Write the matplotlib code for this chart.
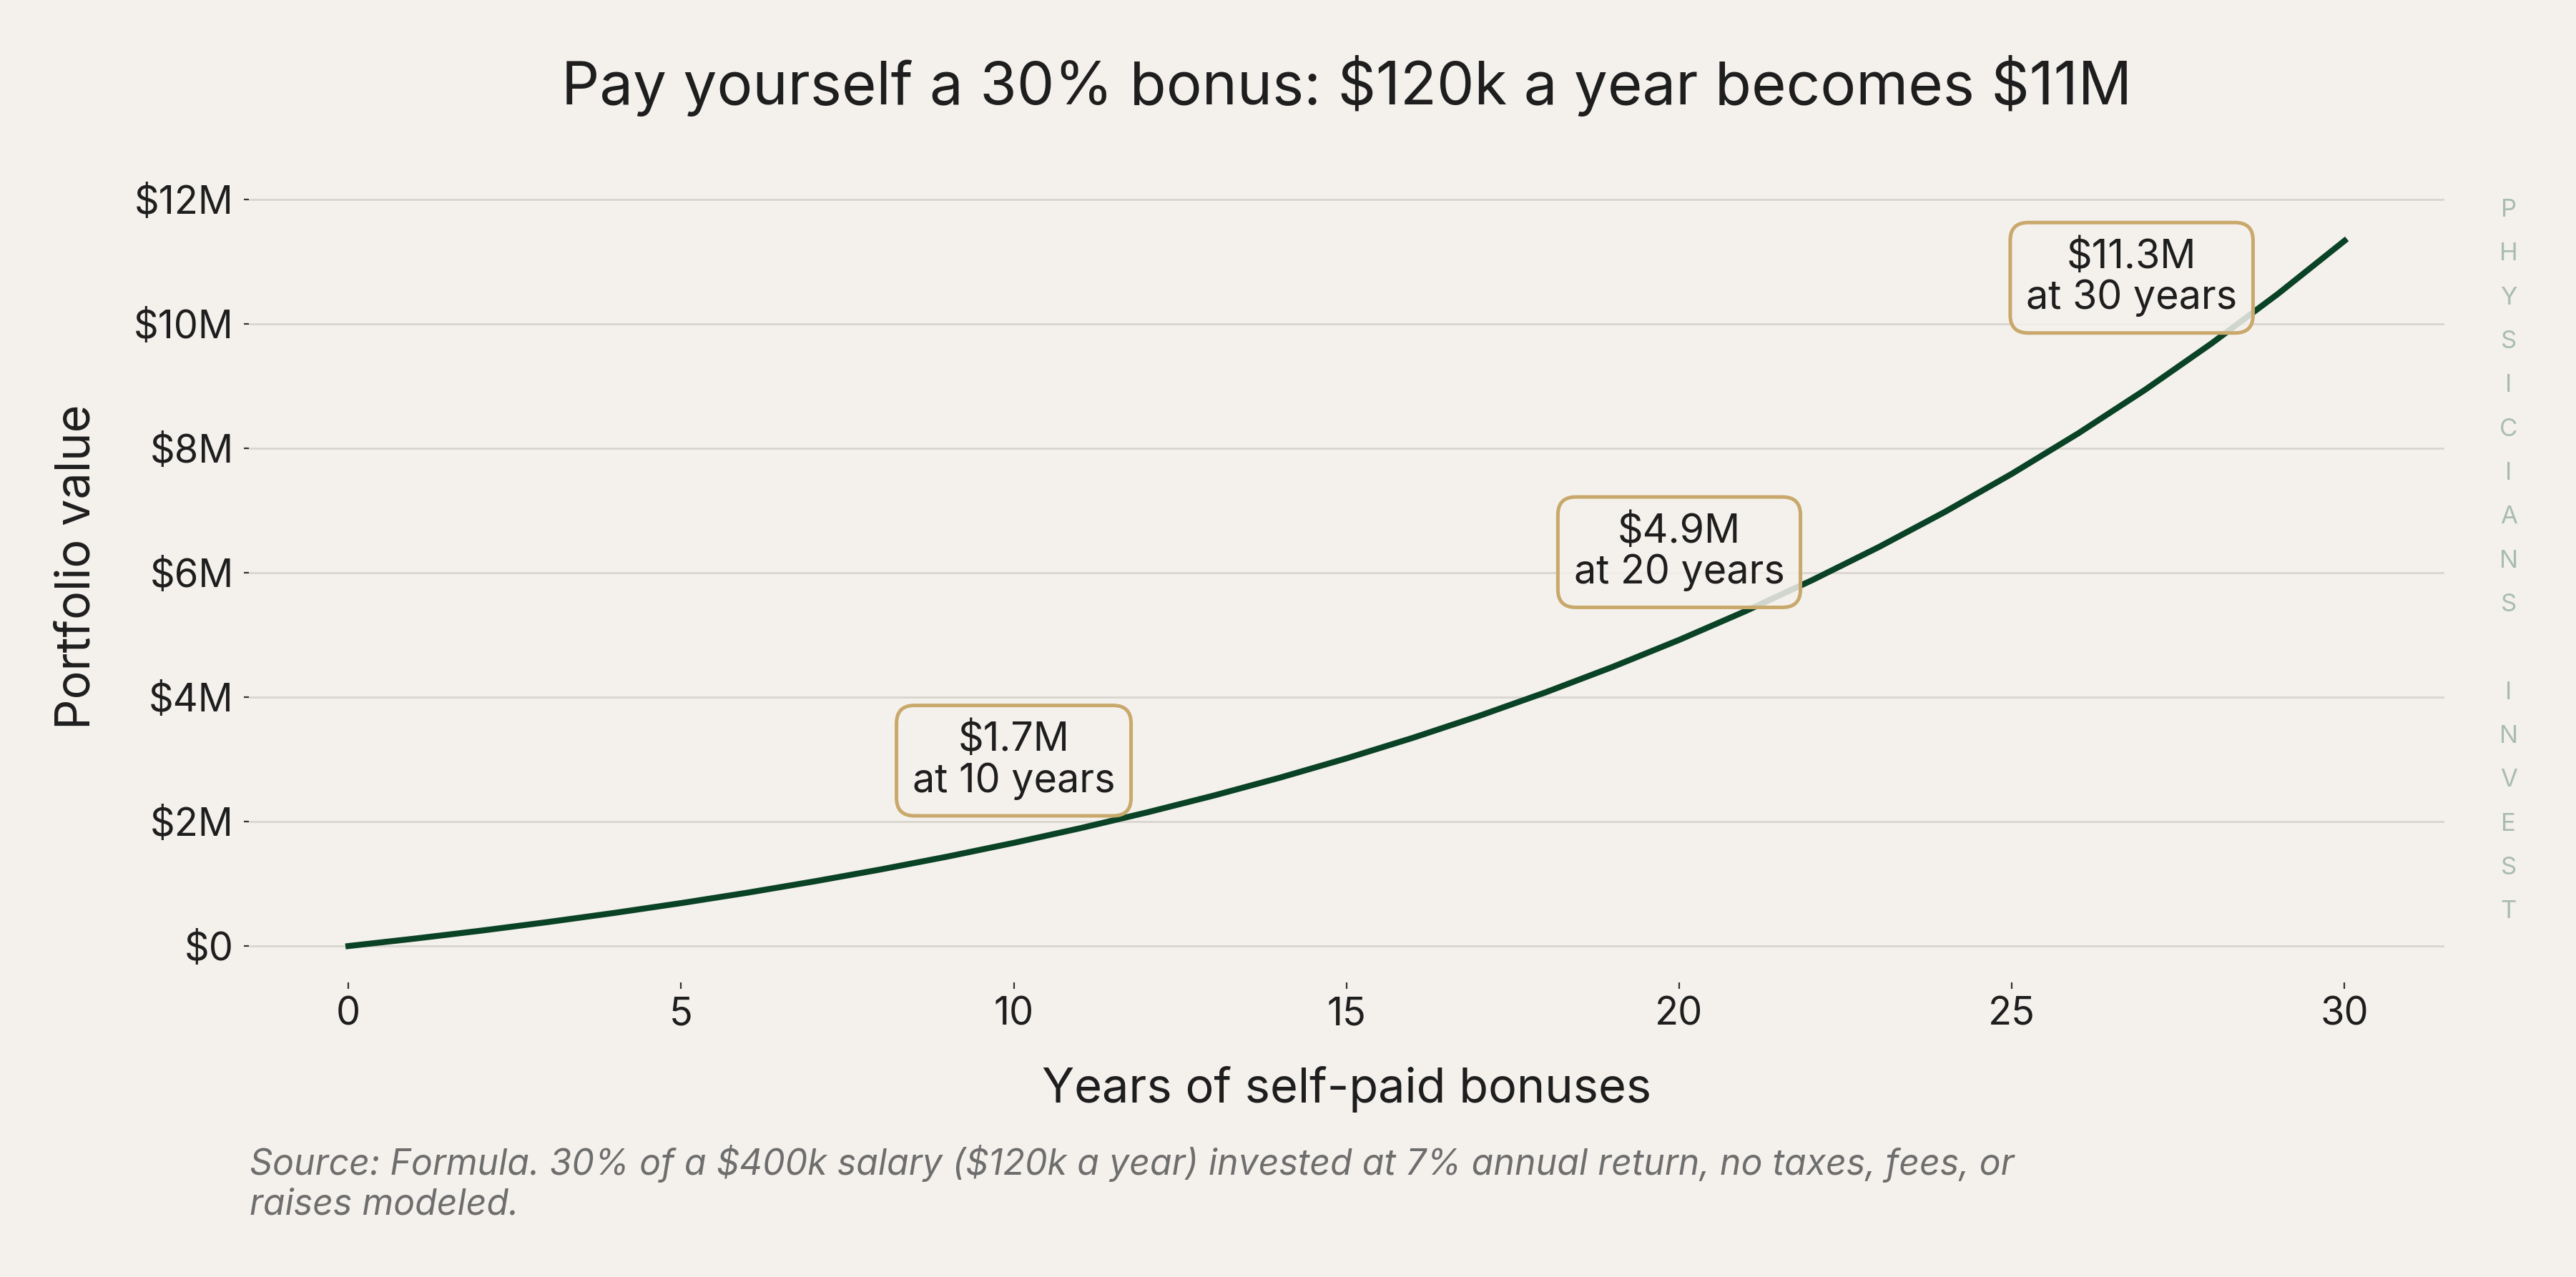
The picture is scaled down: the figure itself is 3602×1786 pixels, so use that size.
import matplotlib.pyplot as plt
from matplotlib.ticker import FuncFormatter

# portfolio value (millions of $) after each year of bonuses
years = list(range(0, 31))
portfolio_m = [
    0.0, 0.120, 0.248, 0.386, 0.533, 0.690, 0.858, 1.039, 1.231, 1.437,
    1.658, 1.894, 2.147, 2.417, 2.706, 3.016, 3.347, 3.701, 4.080, 4.486,
    4.920, 5.384, 5.881, 6.412, 6.981, 7.590, 8.241, 8.938, 9.684, 10.482,
    11.335,
]

callout_years = [10, 20, 30]
y_ticks = [0, 2, 4, 6, 8, 10, 12]
x_ticks = [0, 5, 10, 15, 20, 25, 30]
brand = "PHYSICIANS INVEST"

BG = "#F4F1EC"
LINE = "#0A4226"
GOLD = "#C9A86C"
INK = "#1E1E1E"

plt.rcParams["font.family"] = ["Inter", "DejaVu Sans"]

fig = plt.figure(figsize=(18.01, 8.93), dpi=200, facecolor=BG)
ax = fig.add_axes([0.0965, 0.2309, 0.8524, 0.6276])
ax.set_facecolor(BG)

ax.plot(years, portfolio_m, color=LINE, lw=3.0, zorder=3)

ax.set_xlim(-1.5, 31.5)
ax.set_ylim(-0.58, 12.3)
ax.set_xticks(x_ticks)
ax.set_yticks(y_ticks)
ax.yaxis.set_major_formatter(FuncFormatter(lambda v, p: r"\$0" if v == 0 else rf"\${v:.0f}M"))
ax.grid(axis="y", color="#D8D5CF", lw=1.0, zorder=0)
ax.grid(axis="x", visible=False)
for s in ax.spines.values():
    s.set_visible(False)
ax.tick_params(axis="x", length=3.3, width=0.8, color="#333333", pad=4,
               labelsize=19.5, labelcolor=INK)
ax.tick_params(axis="y", length=2.5, width=0.8, color="#333333", pad=5,
               labelsize=19.5, labelcolor=INK)

# callout boxes (offsets keep the boxes off the line)
box_pos = {10: (10.0, 2.98), 20: (20.0, 6.33), 30: (26.8, 10.74)}
for yr in callout_years:
    v = portfolio_m[years.index(yr)]
    bx, by = box_pos[yr]
    ax.text(bx, by, rf"\${v:.1f}M" + f"\nat {yr} years", ha="center", va="center",
            fontsize=20, color=INK, linespacing=1.12, zorder=4,
            bbox=dict(boxstyle="round,pad=0.4,rounding_size=0.45",
                      fc=(0.957, 0.945, 0.925, 0.85), ec=GOLD, lw=1.8))

fig.text(0.5228, 0.933, r"Pay yourself a 30% bonus: \$120k a year becomes \$11M",
         ha="center", va="center", fontsize=30, color=INK)
fig.text(0.5228, 0.147, "Years of self-paid bonuses", ha="center", va="center",
         fontsize=24, color=INK)
fig.text(0.030, 0.556, "Portfolio value", ha="center", va="center",
         rotation=90, fontsize=24, color=INK)
fig.text(0.0969, 0.1035,
         r"Source: Formula. 30% of a \$400k salary (\$120k a year) invested at 7% annual return, no taxes, fees, or"
         "\nraises modeled.",
         ha="left", va="top", fontsize=18, style="italic", color="#6E6E6E",
         linespacing=1.2)

for i, ch in enumerate(brand):
    fig.text(0.9738, 0.8354 - i * 0.03434, ch, ha="center", va="center",
             fontsize=12.5, color="#A9BDAE")

fig.savefig("out.png", dpi=200, facecolor=BG)
